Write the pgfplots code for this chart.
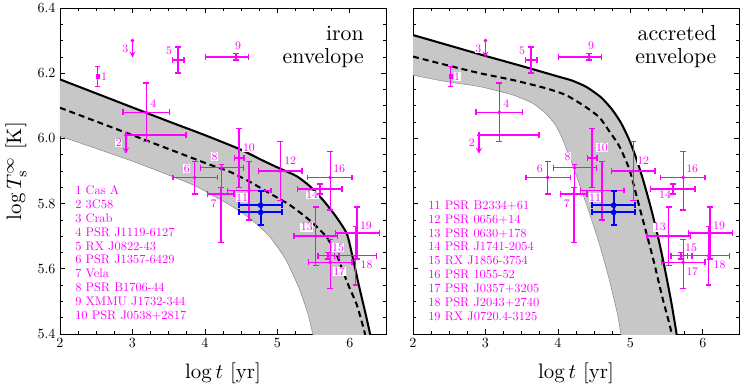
\documentclass[border=0pt]{standalone}
\usepackage{pgfplots}
\pgfplotsset{compat=1.18}
\definecolor{band}{gray}{0.78}
\definecolor{bandedge}{gray}{0.55}
\definecolor{starc}{RGB}{255,0,255}

% number label next to a source
\newcommand{\lab}[4]{\node[font=\fontsize{9}{10}\selectfont, text=starc, fill=white, inner sep=0.4pt, xshift=#3, yshift=#4] at (axis cs:#1) {#2};}
% error bars: horizontal {xmin}{xmax}{y}, vertical {ymin}{ymax}{x}
\newcommand{\hb}[3]{\addplot[draw=starc, line width=1.1pt, mark=|, mark size=2.2pt, mark options={draw=starc}] coordinates {(#1,#3) (#2,#3)};}
\newcommand{\vb}[3]{\addplot[draw=starc, line width=1.1pt, mark=-, mark size=2.2pt, mark options={draw=starc}] coordinates {(#3,#1) (#3,#2)};}

% observed sources, same in both panels
\newcommand{\stars}{%
  \hb{2.87}{3.51}{6.08}  \vb{5.99}{6.17}{3.19}   % 4
  \hb{3.55}{3.71}{6.24}  \vb{6.20}{6.28}{3.63}   % 5
  \hb{3.56}{4.17}{5.88}  \vb{5.83}{5.93}{3.86}   % 6
  \hb{4.04}{4.40}{5.83}  \vb{5.68}{5.85}{4.22}   % 7
  \hb{3.94}{4.53}{5.91}  \vb{5.85}{5.92}{4.23}   % 8
  \hb{4.01}{4.60}{6.25}  \vb{6.24}{6.26}{4.43}   % 9
  \hb{4.41}{4.54}{5.94}  \vb{5.85}{6.03}{4.47}   % 10
  \hb{4.31}{4.91}{5.84}  \vb{5.75}{5.93}{4.61}   % 11
  \hb{4.74}{5.34}{5.90}  \vb{5.81}{5.99}{5.04}   % 12
  \hb{5.23}{5.83}{5.70}  \vb{5.61}{5.79}{5.53}   % 13
  \hb{5.28}{5.89}{5.845} \vb{5.83}{5.86}{5.59}   % 14
  \hb{5.56}{5.85}{5.64}  \vb{5.63}{5.65}{5.70}   % 15
  \hb{5.42}{6.03}{5.88}  \vb{5.78}{5.96}{5.73}   % 16
  \hb{5.43}{6.03}{5.62}  \vb{5.54}{5.69}{5.73}   % 17
  \hb{5.79}{6.37}{5.64}  \vb{5.55}{5.73}{6.08}   % 18
  \hb{5.80}{6.41}{5.71}  \vb{5.63}{5.79}{6.10}   % 19
  \vb{6.16}{6.22}{2.52}                           % 1
  \hb{2.91}{3.74}{6.01}                           % 2
  \addplot[draw=starc, line width=1.1pt, -stealth] coordinates {(2.91,6.01) (2.91,5.953)};
  \addplot[draw=starc, line width=1.1pt, -stealth] coordinates {(3.00,6.30) (3.00,6.248)};
  \addplot[starc, only marks, mark=*, mark size=1.3pt] coordinates {
    (2.91,6.01) (3.00,6.30) (3.19,6.08) (3.63,6.24) (3.86,5.88) (4.22,5.83) (4.23,5.91)
    (4.43,6.25) (4.47,5.94) (4.61,5.84) (5.04,5.90) (5.53,5.70) (5.59,5.845)
    (5.70,5.64) (5.73,5.88) (5.73,5.62) (6.08,5.64) (6.10,5.71)
  };
  \addplot[starc, only marks, mark=square*, mark size=1.4pt] coordinates {(2.52,6.19)};
  % blue source
  \addplot[draw=blue, line width=1.5pt, mark=|, mark size=2.4pt] coordinates {(4.47,5.795) (5.07,5.795)};
  \addplot[draw=blue, line width=1.5pt, mark=|, mark size=2.4pt] coordinates {(4.47,5.773) (5.07,5.773)};
  \addplot[draw=blue, line width=1.5pt, mark=-, mark size=2.4pt] coordinates {(4.77,5.733) (4.77,5.84)};
  \addplot[blue, only marks, mark=*, mark size=2pt] coordinates {(4.77,5.795) (4.77,5.773)};
  \lab{2.52,6.19}{1}{5pt}{0pt}
  \lab{2.91,6.01}{2}{-5.5pt}{-6.2pt}
  \lab{3.00,6.30}{3}{-5.5pt}{-6.2pt}
  \lab{3.19,6.08}{4}{5.5pt}{7pt}
  \lab{3.63,6.24}{5}{-7pt}{7pt}
  \lab{3.86,5.88}{6}{-6.2pt}{7pt}
  \lab{4.22,5.83}{7}{-5.5pt}{-7.8pt}
  \lab{4.23,5.91}{8}{-5.5pt}{8.6pt}
  \lab{4.43,6.25}{9}{1.6pt}{8.6pt}
  \lab{4.47,5.94}{10}{7.8pt}{7.8pt}
  \lab{4.61,5.84}{11}{-5.5pt}{-5.5pt}
  \lab{5.04,5.90}{12}{7.8pt}{7.8pt}
  \lab{5.53,5.70}{13}{-7pt}{7pt}
  \lab{5.59,5.845}{14}{-6.2pt}{-4.7pt}
  \lab{5.70,5.64}{15}{7.8pt}{6.2pt}
  \lab{5.73,5.88}{16}{7pt}{7pt}
  \lab{5.73,5.62}{17}{7pt}{-7pt}
  \lab{6.08,5.64}{18}{8.6pt}{-7pt}
  \lab{6.10,5.71}{19}{7pt}{5.5pt}
}

\pgfplotsset{
  cool/.style={
    width=254.28pt, height=254.28pt, scale only axis,
    xmin=2, xmax=6.5, ymin=5.4, ymax=6.4,
    xtick={2,3,4,5,6}, ytick={5.4,5.6,5.8,6.0,6.2,6.4},
    minor x tick num=3, minor y tick num=3,
    tick align=inside, tick pos=both, ticklabel pos=left,
    major tick length=4pt, minor tick length=2.4pt,
    tick style={black, line width=0.5pt},
    axis line style={line width=0.6pt},
    yticklabel style={/pgf/number format/.cd, fixed, fixed zerofill, precision=1},
    tick label style={font=\fontsize{11}{13}\selectfont},
    xlabel={$\log t$ [yr]},
    xlabel style={font=\fontsize{10}{12}\selectfont, scale=1.63, at={(axis description cs:0.5,-0.12)}, anchor=center},
    ylabel style={font=\fontsize{10}{12}\selectfont, scale=1.63, at={(axis description cs:-0.135,0.5)}, anchor=center, rotate=0},
  },
  solidc/.style={black, line width=1.6pt, smooth, tension=0.4},
  dashc/.style={black, line width=1.6pt, dash pattern=on 4.7pt off 3.1pt, smooth, tension=0.4},
  edgec/.style={bandedge, line width=0.4pt, smooth, tension=0.4},
}

\begin{document}
\begin{tikzpicture}
\useasboundingbox (-46.8pt,-41.34pt) rectangle (535.86pt,260.52pt);

% ---------------- iron envelope
\begin{axis}[cool, at={(0pt,0pt)}, ylabel={$\log T_{\rm s}^{\infty}$ [K]}]
  \addplot[fill=band, draw=none] coordinates {
    (2,6.181) (2.5,6.138) (3,6.095) (3.5,6.052) (4,6.01) (4.48,5.967) (4.8,5.932)
    (5.03,5.908) (5.26,5.885) (5.44,5.855) (5.63,5.811) (5.81,5.76) (5.96,5.707)
    (6.04,5.635) (6.13,5.545) (6.22,5.46) (6.28,5.40) (6.31,5.36)
    (5.53,5.36) (5.49,5.40) (5.42,5.463) (5.31,5.535) (5.12,5.627) (4.89,5.70)
    (4.62,5.755) (4.34,5.796) (3.84,5.857) (3,5.93) (2,6.007)
  };
  \addplot[edgec] coordinates {
    (2,6.007) (3,5.93) (3.84,5.857) (4.34,5.796) (4.62,5.755) (4.89,5.70)
    (5.12,5.627) (5.31,5.535) (5.42,5.463) (5.49,5.40) (5.53,5.36)
  };
  \addplot[solidc] coordinates {
    (2,6.181) (2.5,6.138) (3,6.095) (3.5,6.052) (4,6.01) (4.48,5.967) (4.8,5.932)
    (5.03,5.908) (5.26,5.885) (5.44,5.855) (5.63,5.811) (5.81,5.76) (5.96,5.707)
    (6.04,5.635) (6.13,5.545) (6.22,5.46) (6.28,5.40) (6.31,5.36)
  };
  \addplot[dashc] coordinates {
    (2,6.094) (3,6.01) (4,5.925) (4.34,5.898) (4.62,5.867) (4.89,5.832) (5.17,5.796)
    (5.44,5.75) (5.67,5.70) (5.81,5.648) (5.90,5.596) (5.99,5.545) (6.09,5.494)
    (6.15,5.45) (6.21,5.40) (6.24,5.36)
  };
  \stars
  \node[anchor=north east, align=right, font=\fontsize{10}{10.6}\selectfont, scale=1.7, inner sep=0pt]
    at (rel axis cs:0.933,0.945) {iron\\envelope};
  \node[anchor=south west, align=left, font=\fontsize{9.7}{10.8}\selectfont, text=starc, inner sep=0pt]
    at (rel axis cs:0.046,0.041) {1 Cas A\\2 3C58\\3 Crab\\4 PSR J1119-6127\\5 RX J0822-43\\6 PSR J1357-6429\\7 Vela\\8 PSR B1706-44\\9 XMMU J1732-344\\10 PSR J0538+2817};
\end{axis}

% ---------------- accreted envelope
\begin{axis}[cool, at={(275.34pt,0pt)}, yticklabels={}]
  \addplot[fill=band, draw=none] coordinates {
    (2,6.317) (2.5,6.285) (3.0,6.253) (3.5,6.222) (4.0,6.19) (4.2,6.177)
    (4.4,6.157) (4.6,6.125) (4.75,6.088) (4.87,6.048) (4.98,5.998) (5.08,5.94)
    (5.18,5.87) (5.28,5.79) (5.38,5.70) (5.47,5.607) (5.56,5.504) (5.63,5.412) (5.66,5.36)
    (4.89,5.36) (4.87,5.40) (4.82,5.463) (4.71,5.566) (4.57,5.678) (4.39,5.80)
    (4.20,5.92) (4.13,5.96) (4.06,6.0) (3.97,6.04) (3.83,6.077) (3.65,6.108)
    (3.38,6.133) (2.92,6.159) (2.46,6.174) (2,6.194)
  };
  \addplot[edgec] coordinates {
    (2,6.194) (2.46,6.174) (2.92,6.159) (3.38,6.133) (3.65,6.108) (3.83,6.077)
    (3.97,6.04) (4.06,6.0) (4.13,5.96) (4.20,5.92) (4.39,5.80) (4.57,5.678)
    (4.71,5.566) (4.82,5.463) (4.87,5.40) (4.89,5.36)
  };
  \addplot[solidc] coordinates {
    (2,6.317) (2.5,6.285) (3.0,6.253) (3.5,6.222) (4.0,6.19) (4.2,6.177)
    (4.4,6.157) (4.6,6.125) (4.75,6.088) (4.87,6.048) (4.98,5.998) (5.08,5.94)
    (5.18,5.87) (5.28,5.79) (5.38,5.70) (5.47,5.607) (5.56,5.504) (5.63,5.412) (5.66,5.36)
  };
  \addplot[dashc] coordinates {
    (2,6.251) (2.46,6.225) (2.92,6.2) (3.38,6.179) (3.83,6.154) (4.11,6.133)
    (4.38,6.097) (4.57,6.065) (4.70,6.025) (4.85,5.975) (4.99,5.903) (5.10,5.811)
    (5.21,5.719) (5.33,5.617) (5.44,5.514) (5.56,5.412) (5.59,5.36)
  };
  \stars
  \node[anchor=north east, align=right, font=\fontsize{10}{10.6}\selectfont, scale=1.7, inner sep=0pt]
    at (rel axis cs:0.932,0.948) {accreted\\envelope};
  \node[anchor=south west, align=left, font=\fontsize{9.7}{10.8}\selectfont, text=starc, inner sep=0pt]
    at (rel axis cs:0.046,0.041) {11 PSR B2334+61\\12 PSR 0656+14\\13 PSR 0630+178\\14 PSR J1741-2054\\15 RX J1856-3754\\16 PSR 1055-52\\17 PSR J0357+3205\\18 PSR J2043+2740\\19 RX J0720.4-3125};
\end{axis}
\end{tikzpicture}
\end{document}
